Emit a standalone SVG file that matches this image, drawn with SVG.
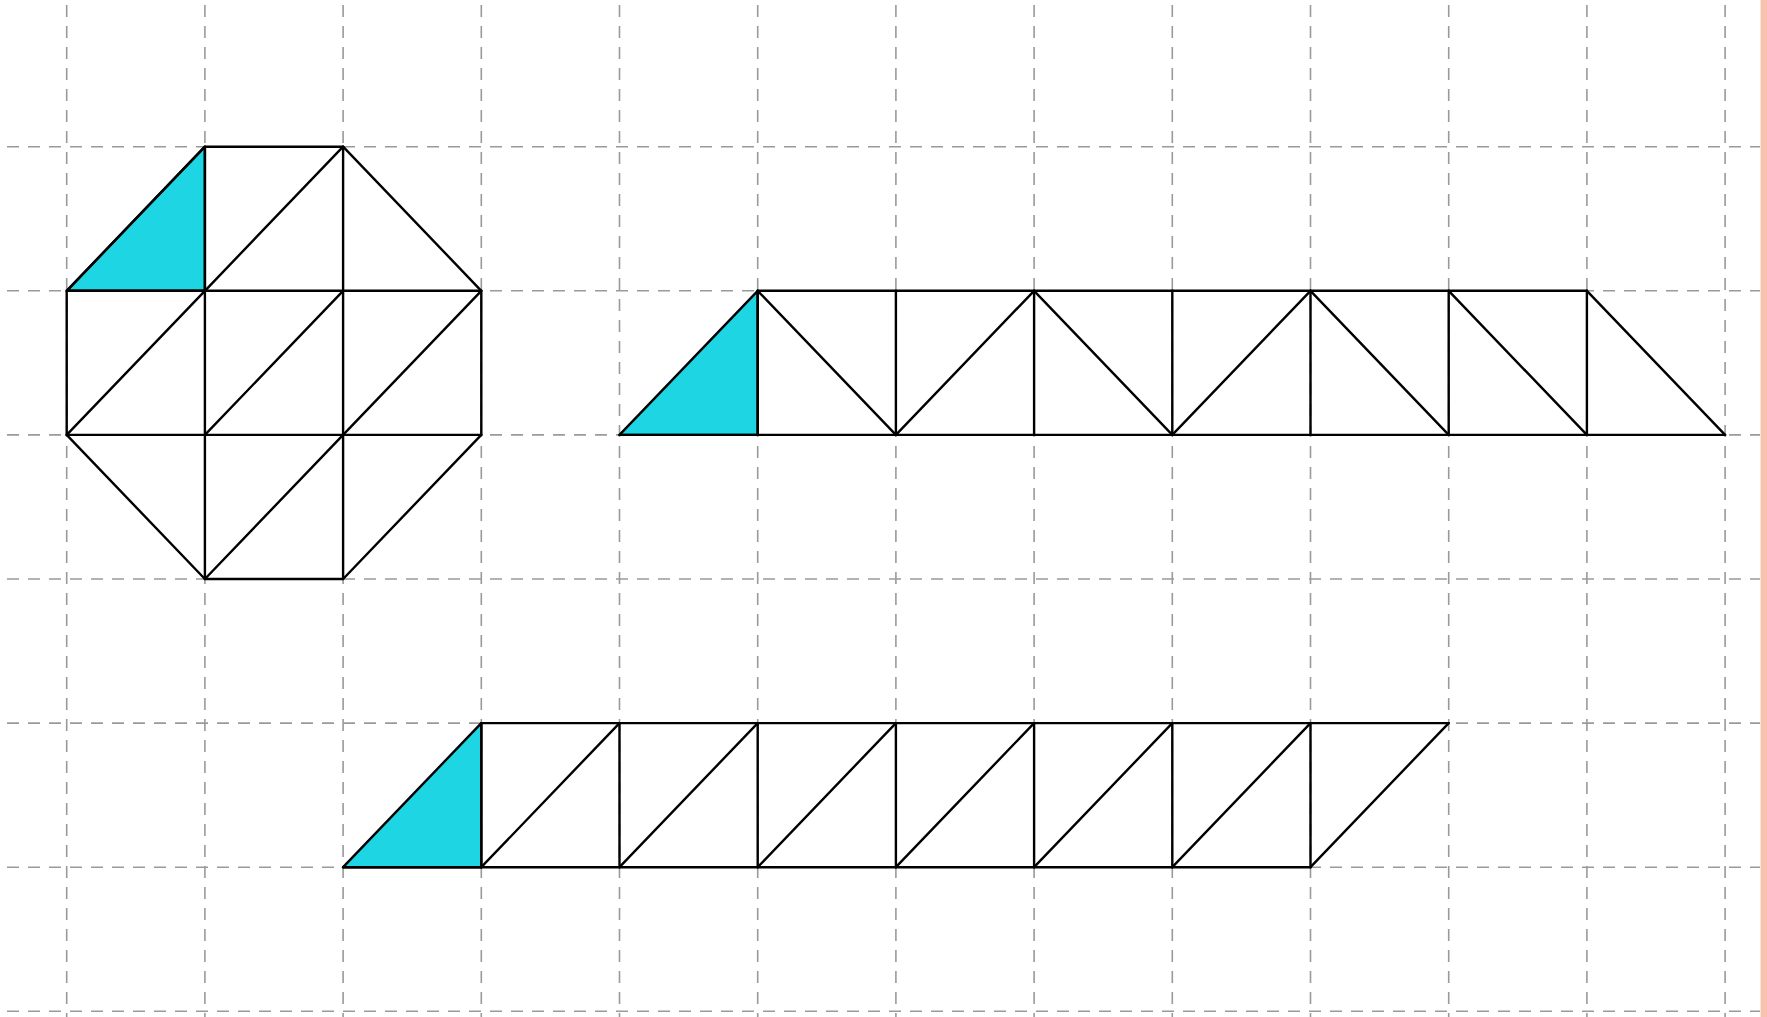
<svg xmlns="http://www.w3.org/2000/svg" width="1767" height="1017" viewBox="0 0 1767 1017">
<style>
.grid line{stroke:#9a9a9a;stroke-width:1.6;stroke-dasharray:12 9;fill:none}
.shape{stroke:#000;stroke-width:2.4;fill:none;stroke-linejoin:round;stroke-linecap:round}
.cyan{fill:#1ED6E3;stroke:#000;stroke-width:2.4;stroke-linejoin:round}
</style>
<rect x="0" y="0" width="1767" height="1017" fill="#fff"/>
<rect x="1760.5" y="0" width="6.5" height="1017" fill="#F8C2AE"/>
<g id="grid" class="grid">
<line x1="66.7" y1="5" x2="66.7" y2="1017"/>
<line x1="204.9" y1="5" x2="204.9" y2="1017"/>
<line x1="343.1" y1="5" x2="343.1" y2="1017"/>
<line x1="481.3" y1="5" x2="481.3" y2="1017"/>
<line x1="619.5" y1="5" x2="619.5" y2="1017"/>
<line x1="757.7" y1="5" x2="757.7" y2="1017"/>
<line x1="895.9" y1="5" x2="895.9" y2="1017"/>
<line x1="1034.1" y1="5" x2="1034.1" y2="1017"/>
<line x1="1172.3" y1="5" x2="1172.3" y2="1017"/>
<line x1="1310.5" y1="5" x2="1310.5" y2="1017"/>
<line x1="1448.7" y1="5" x2="1448.7" y2="1017"/>
<line x1="1586.9" y1="5" x2="1586.9" y2="1017"/>
<line x1="1725.1" y1="5" x2="1725.1" y2="1017"/>
<line x1="7" y1="146.7" x2="1760" y2="146.7"/>
<line x1="7" y1="290.8" x2="1760" y2="290.8"/>
<line x1="7" y1="434.9" x2="1760" y2="434.9"/>
<line x1="7" y1="579" x2="1760" y2="579"/>
<line x1="7" y1="723.1" x2="1760" y2="723.1"/>
<line x1="7" y1="867.2" x2="1760" y2="867.2"/>
<line x1="7" y1="1011.3" x2="1760" y2="1011.3"/>
</g>
<g id="octagon">
<polygon class="cyan" points="66.7,290.8 204.9,146.7 204.9,290.8"/>
<g class="shape">
<polygon points="204.9,146.7 343.1,146.7 481.3,290.8 481.3,434.9 343.1,579 204.9,579 66.7,434.9 66.7,290.8"/>
<line x1="204.9" y1="146.7" x2="204.9" y2="579"/>
<line x1="343.1" y1="146.7" x2="343.1" y2="579"/>
<line x1="66.7" y1="290.8" x2="481.3" y2="290.8"/>
<line x1="66.7" y1="434.9" x2="481.3" y2="434.9"/>
<line x1="204.9" y1="290.8" x2="343.1" y2="146.7"/>
<line x1="66.7" y1="434.9" x2="204.9" y2="290.8"/>
<line x1="204.9" y1="434.9" x2="343.1" y2="290.8"/>
<line x1="343.1" y1="434.9" x2="481.3" y2="290.8"/>
<line x1="204.9" y1="579" x2="343.1" y2="434.9"/>
</g>
</g>
<g id="strip-top">
<polygon class="cyan" points="619.5,434.9 757.7,290.8 757.7,434.9"/>
<g class="shape">
<line x1="757.7" y1="290.8" x2="1586.9" y2="290.8"/>
<line x1="619.5" y1="434.9" x2="1725.1" y2="434.9"/>
<line x1="757.7" y1="290.8" x2="757.7" y2="434.9"/>
<line x1="895.9" y1="290.8" x2="895.9" y2="434.9"/>
<line x1="1034.1" y1="290.8" x2="1034.1" y2="434.9"/>
<line x1="1172.3" y1="290.8" x2="1172.3" y2="434.9"/>
<line x1="1310.5" y1="290.8" x2="1310.5" y2="434.9"/>
<line x1="1448.7" y1="290.8" x2="1448.7" y2="434.9"/>
<line x1="1586.9" y1="290.8" x2="1586.9" y2="434.9"/>
<line x1="757.7" y1="290.8" x2="895.9" y2="434.9"/>
<line x1="895.9" y1="434.9" x2="1034.1" y2="290.8"/>
<line x1="1034.1" y1="290.8" x2="1172.3" y2="434.9"/>
<line x1="1172.3" y1="434.9" x2="1310.5" y2="290.8"/>
<line x1="1310.5" y1="290.8" x2="1448.7" y2="434.9"/>
<line x1="1448.7" y1="290.8" x2="1586.9" y2="434.9"/>
<line x1="1586.9" y1="290.8" x2="1725.1" y2="434.9"/>
</g>
</g>
<g id="strip-bottom">
<polygon class="cyan" points="343.1,867.2 481.3,723.1 481.3,867.2"/>
<g class="shape">
<line x1="481.3" y1="723.1" x2="1448.7" y2="723.1"/>
<line x1="343.1" y1="867.2" x2="1310.5" y2="867.2"/>
<line x1="481.3" y1="723.1" x2="481.3" y2="867.2"/>
<line x1="619.5" y1="723.1" x2="619.5" y2="867.2"/>
<line x1="757.7" y1="723.1" x2="757.7" y2="867.2"/>
<line x1="895.9" y1="723.1" x2="895.9" y2="867.2"/>
<line x1="1034.1" y1="723.1" x2="1034.1" y2="867.2"/>
<line x1="1172.3" y1="723.1" x2="1172.3" y2="867.2"/>
<line x1="1310.5" y1="723.1" x2="1310.5" y2="867.2"/>
<line x1="481.3" y1="867.2" x2="619.5" y2="723.1"/>
<line x1="619.5" y1="867.2" x2="757.7" y2="723.1"/>
<line x1="757.7" y1="867.2" x2="895.9" y2="723.1"/>
<line x1="895.9" y1="867.2" x2="1034.1" y2="723.1"/>
<line x1="1034.1" y1="867.2" x2="1172.3" y2="723.1"/>
<line x1="1172.3" y1="867.2" x2="1310.5" y2="723.1"/>
<line x1="1310.5" y1="867.2" x2="1448.7" y2="723.1"/>
</g>
</g>
</svg>
